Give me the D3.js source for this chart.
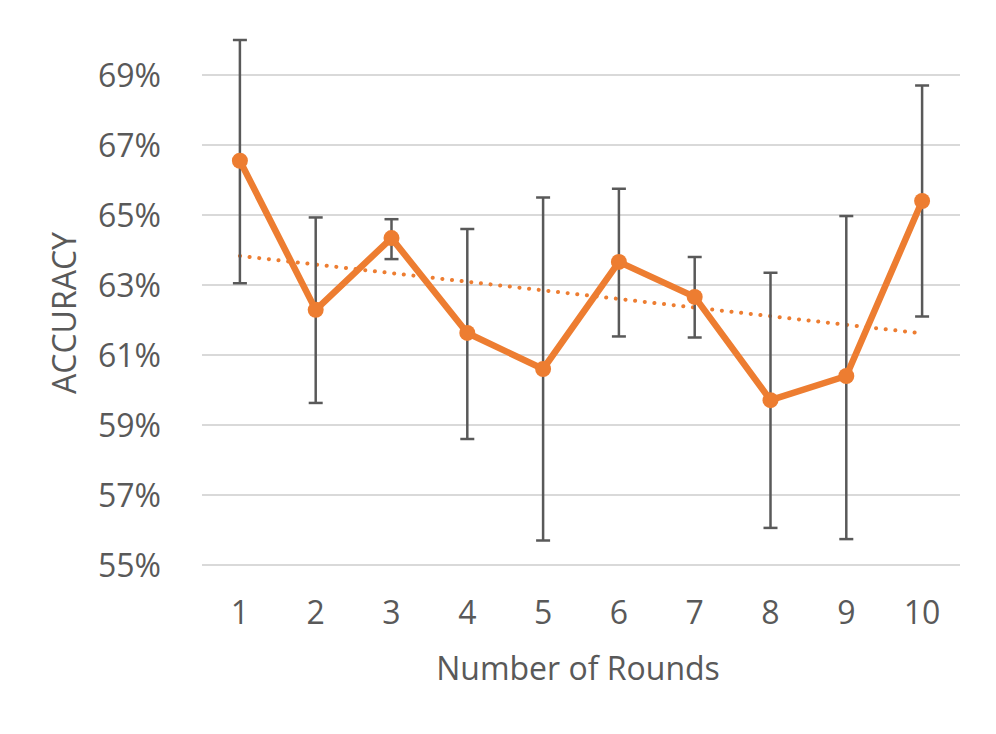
<!DOCTYPE html>
<html><head><meta charset="utf-8">
<script src="https://cdn.jsdelivr.net/npm/d3@7"></script>
<style>
body{margin:0;background:#fff;}
text{font-family:"Open Sans","Liberation Sans Narrow",sans-serif;font-stretch:100%;fill:#595959;}
</style></head>
<body><svg id="c" width="996" height="734"></svg>
<script>
const rounds = [1,2,3,4,5,6,7,8,9,10];
const accuracy = [66.55,62.29,64.34,61.63,60.6,63.66,62.66,59.71,60.4,65.4];
const errHigh = [70.0,64.93,64.88,64.6,65.5,65.75,63.8,63.35,64.97,68.7];
const errLow = [63.05,59.63,63.74,58.6,55.7,61.53,61.5,56.06,55.74,62.1];
const yTicks = [55,57,59,61,63,65,67,69];

const svg = d3.select("#c");
const pLeft=202, pRight=960, pTop=40, pBottom=565;
const x = d3.scaleBand().domain(rounds).range([pLeft,pRight]);
const y = d3.scaleLinear().domain([55,70]).range([pBottom,pTop]);
const cx = d => x(d)+x.bandwidth()/2;
const orange="#ED7D31", grey="#595959";
const fs = 32;

// grid
svg.append("g").selectAll("line").data(yTicks).join("line")
  .attr("x1",pLeft).attr("x2",pRight).attr("y1",d=>y(d)).attr("y2",d=>y(d))
  .attr("stroke","#d9d9d9").attr("stroke-width",2);

// y tick labels
svg.append("g").selectAll("text").data(yTicks).join("text")
  .attr("x",161).attr("y",d=>y(d)).attr("dy","0.36em").attr("text-anchor","end")
  .attr("font-size",fs).text(d=>d+"%");

// x tick labels
svg.append("g").selectAll("text").data(rounds).join("text")
  .attr("x",d=>cx(d)).attr("y",612).attr("dy","0.36em").attr("text-anchor","middle")
  .attr("font-size",fs).text(d=>d);

// trendline (least squares)
const n=rounds.length, mx=d3.mean(rounds), my=d3.mean(accuracy);
const slope=d3.sum(rounds,(r,i)=>(r-mx)*(accuracy[i]-my))/d3.sum(rounds,r=>(r-mx)**2);
const icpt=my-slope*mx;
svg.append("line")
  .attr("x1",cx(rounds[0])).attr("y1",y(icpt+slope*rounds[0]))
  .attr("x2",cx(rounds[n-1])).attr("y2",y(icpt+slope*rounds[n-1]))
  .attr("stroke",orange).attr("stroke-width",4).attr("stroke-linecap","round")
  .attr("stroke-dasharray","0.1 9.6");

// error bars
const eb=svg.append("g").attr("stroke",grey).attr("stroke-width",2.5);
rounds.forEach((r,i)=>{
  eb.append("line").attr("x1",cx(r)).attr("x2",cx(r)).attr("y1",y(errHigh[i])).attr("y2",y(errLow[i]));
  eb.append("line").attr("x1",cx(r)-7).attr("x2",cx(r)+7).attr("y1",y(errHigh[i])).attr("y2",y(errHigh[i]));
  eb.append("line").attr("x1",cx(r)-7).attr("x2",cx(r)+7).attr("y1",y(errLow[i])).attr("y2",y(errLow[i]));
});

// line
svg.append("path").datum(rounds)
  .attr("d",d3.line().x(d=>cx(d)).y((d,i)=>y(accuracy[i])))
  .attr("fill","none").attr("stroke",orange).attr("stroke-width",6.5).attr("stroke-linejoin","round");
svg.append("g").selectAll("circle").data(rounds).join("circle")
  .attr("cx",d=>cx(d)).attr("cy",(d,i)=>y(accuracy[i])).attr("r",8).attr("fill",orange);

// axis titles
svg.append("text").attr("transform","translate(76,313) rotate(-90)").attr("text-anchor","middle")
  .attr("font-size",fs).text("ACCURACY");
svg.append("text").attr("x",578).attr("y",668).attr("dy","0.36em").attr("text-anchor","middle")
  .attr("font-size",fs).text("Number of Rounds");
</script></body></html>
